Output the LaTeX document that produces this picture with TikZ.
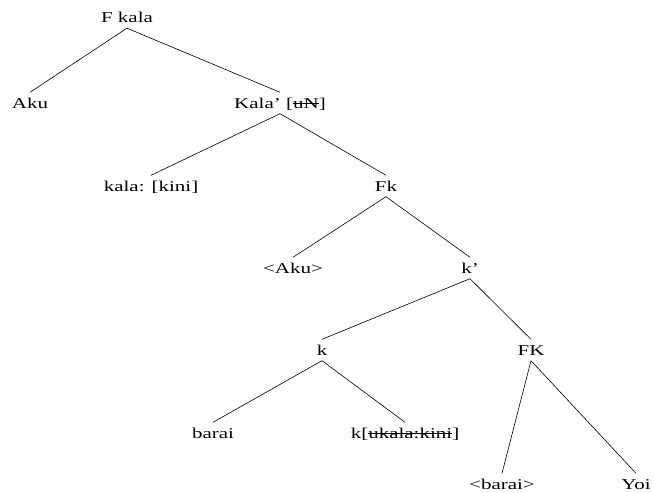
\documentclass[tikz,border=0pt]{standalone}
\usepackage{fontspec}
\setmainfont{Liberation Serif}
\newcommand{\wt}[1]{\scalebox{1.4}[1]{#1}}
\newcommand{\strk}[1]{\setbox0=\hbox{#1}\rlap{\raisebox{0.28em}{\rule{\wd0}{0.06em}}}\box0}
\tikzset{
  lbl/.style={inner sep=0pt, inner ysep=5.5pt, text height=10pt, text depth=0pt,
    font=\fontsize{15}{15}\selectfont},
  edge/.style={draw=black, line width=0.6pt}
}
\begin{document}
\begin{tikzpicture}[x=1pt,y=-1pt]
\useasboundingbox (0,0) rectangle (654,493);
\node[lbl] (fkala) at (127,17.5) {\wt{F kala}};
\node[lbl] (aku) at (30,103) {\wt{Aku}};
\node[lbl] (kalab) at (280,103) {\wt{Kala' [\strk{uN}]}};
\node[lbl] (kini) at (151,186) {\wt{kala: [kini]}};
\node[lbl] (fk) at (386,186) {\wt{Fk}};
\node[lbl] (aku2) at (293,268) {\wt{\textless Aku\textgreater}};
\node[lbl] (kbar) at (470,268) {\wt{k'}};
\node[lbl] (k) at (322,350) {\wt{k}};
\node[lbl] (FK) at (531,350) {\wt{FK}};
\node[lbl] (barai) at (213,433) {\wt{barai}};
\node[lbl] (kuk) at (405,433) {\wt{k[\strk{ukala:kini}]}};
\node[lbl] (barai2) at (502,484) {\wt{\textless barai\textgreater}};
\node[lbl] (yoi) at (636,484) {\wt{Yoi}};
\draw[edge] (fkala.south) -- (aku.north);
\draw[edge] (fkala.south) -- (kalab.north);
\draw[edge] (kalab.south) -- (kini.north);
\draw[edge] (kalab.south) -- (fk.north);
\draw[edge] (fk.south) -- (aku2.north);
\draw[edge] (fk.south) -- (kbar.north);
\draw[edge] (kbar.south) -- (k.north);
\draw[edge] (kbar.south) -- (FK.north);
\draw[edge] (k.south) -- (barai.north);
\draw[edge] (k.south) -- (kuk.north);
\draw[edge] (FK.south) -- (barai2.north);
\draw[edge] (FK.south) -- (yoi.north);
\end{tikzpicture}
\end{document}
